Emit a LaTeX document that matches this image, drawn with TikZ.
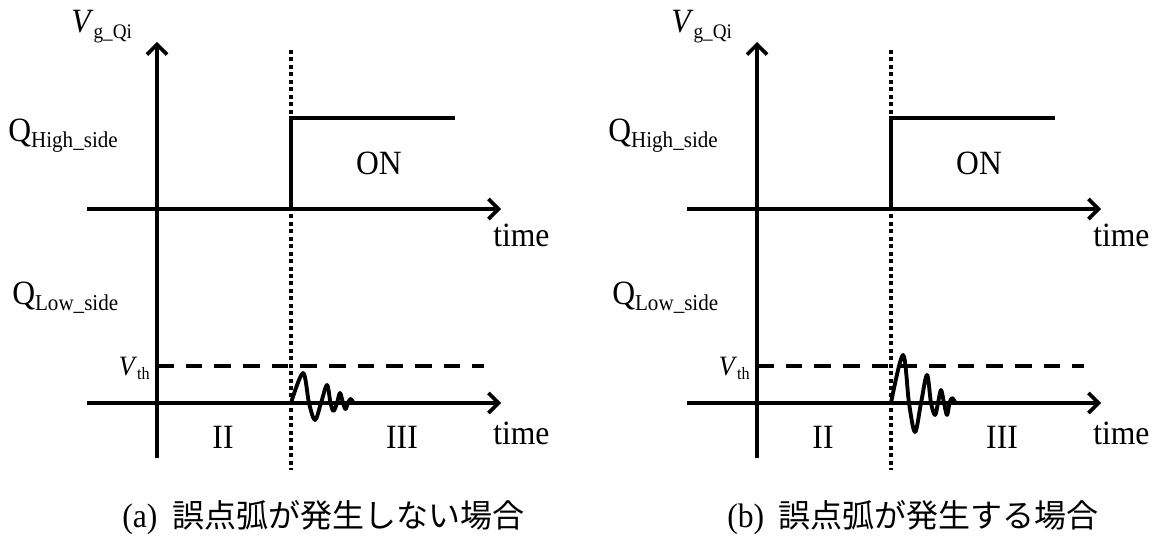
\documentclass[tikz,border=0pt]{standalone}
\usepackage{fontspec}
\setmainfont[FakeStretch=0.93]{Liberation Serif}
\newfontfamily\cjk{Noto Sans CJK JP}
\usetikzlibrary{arrows.meta}
\newcommand\subtxt[3]{\raisebox{-#2}{\fontsize{#1}{#1}\selectfont #3}}
\tikzset{
  axisline/.style={line width=2.7pt,-{Straight Barb[length=7.5pt,width=15pt]}},
  plainline/.style={line width=2.7pt},
  dotline/.style={line width=2.7pt,dash pattern=on 3pt off 2.6pt},
  thline/.style={line width=2.7pt,dash pattern=on 12.5pt off 9pt},
  wave/.style={line width=2.9pt,line join=round,line cap=round},
  lbl/.style={inner sep=0pt,font=\fontsize{25.5}{25.5}\selectfont},
  caplbl/.style={inner sep=0pt,font=\fontsize{25.5}{25.5}\selectfont},
}
\begin{document}
\begin{tikzpicture}[x=0.75pt,y=-0.75pt]
\useasboundingbox (0,0) rectangle (1159,541);
\foreach \p/\dx in {a/0,b/600}{
  \coordinate (\p-vb) at (\dx+157,458);
  \coordinate (\p-vt) at (\dx+157,42);
  \coordinate (\p-u0) at (\dx+87,209);
  \coordinate (\p-u1) at (\dx+501,209);
  \coordinate (\p-l0) at (\dx+87,403);
  \coordinate (\p-l1) at (\dx+501,403);
  \coordinate (\p-d0) at (\dx+291,50);
  \coordinate (\p-d1) at (\dx+291,470);
  \coordinate (\p-h0) at (\dx+291,209);
  \coordinate (\p-h1) at (\dx+291,118);
  \coordinate (\p-h2) at (\dx+455,118);
  \coordinate (\p-t0) at (\dx+157,366);
  \coordinate (\p-t1) at (\dx+484,366);
  % axes
  \draw[axisline] (\p-vb) -- (\p-vt);
  \draw[axisline] (\p-u0) -- (\p-u1);
  \draw[axisline] (\p-l0) -- (\p-l1);
  % dotted line
  \draw[dotline] (\p-d0) -- (\p-d1);
  % threshold
  \draw[thline] (\p-t0) -- (\p-t1);
  % high side pulse
  \draw[plainline,line join=miter] (\p-h0) -- (\p-h1) -- (\p-h2);
  % labels
  \node[lbl,anchor=base west] (\p-vg) at (\dx+71,33) {\textit{V}\subtxt{15.5pt}{4.5pt}{g\_Qi}};
  \node[lbl,anchor=base west] (\p-qh) at (\dx+8,142) {Q\subtxt{17pt}{4pt}{High\_side}};
  \node[lbl,anchor=base west] (\p-ql) at (\dx+12,305) {Q\subtxt{17pt}{4pt}{Low\_side}};
  \node[inner sep=0pt,font=\fontsize{21}{21}\selectfont,anchor=base east] (\p-vth) at (\dx+150,375) {\textit{V}\subtxt{13pt}{3.5pt}{th}};
  \node[lbl,anchor=base west] (\p-tm1) at (\dx+493,247) {time};
  \node[lbl,anchor=base west] (\p-tm2) at (\dx+493,444) {time};
  \node[lbl] (\p-on) at (\dx+379,163) {ON};
  \node[lbl] (\p-ii) at (\dx+223,437) {II};
  \node[lbl] (\p-iii) at (\dx+402,437) {III};
}
% waveforms
\draw[wave] plot[smooth,tension=0.55] coordinates {(291,403) (303,373) (309,403) (315,420) (321,403) (327,385) (330.5,403) (333.5,411) (337,403) (340,393) (343,403) (345.5,409) (348,403) (350.5,399) (353,402)};
\draw[wave] plot[smooth,tension=0.55] coordinates {(891,403) (903,355) (909,403) (915,432) (921,403) (927,375) (931,403) (935,415) (938,403) (941,390) (944,403) (947,415) (949.5,403) (952,398) (955,402)};
% captions
\node[caplbl,anchor=base west] (capa) at (122,527) {(a)\hspace{11pt}{\cjk\fontsize{24}{24}\selectfont 誤点弧が発生しない場合}};
\node[caplbl,anchor=base west] (capb) at (727,527) {(b)\hspace{11pt}{\cjk\fontsize{24}{24}\selectfont 誤点弧が発生する場合}};
\end{tikzpicture}
\end{document}
